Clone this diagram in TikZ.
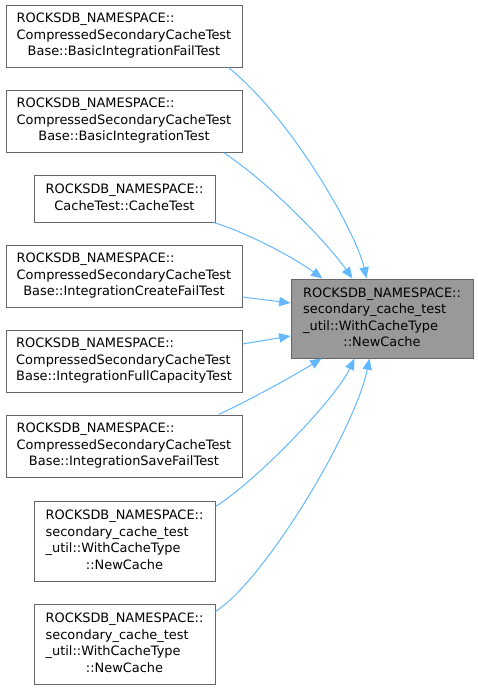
\documentclass[tikz,border=0pt]{standalone}
\usepackage{fontspec}
\setmainfont{DejaVu Sans}
\usetikzlibrary{arrows.meta,calc}
\definecolor{edgeblue}{HTML}{63B8FF}
\definecolor{boxborder}{HTML}{666666}
\definecolor{hifill}{HTML}{999999}
\newcommand{\dxlines}[2]{\begin{tabular}{@{}l@{}}#1\\\multicolumn{1}{@{}c@{}}{#2}\end{tabular}}
\begin{document}
\begin{tikzpicture}[x=0.75pt,y=-0.75pt,
  dbox/.style={draw=boxborder,line width=0.75pt,fill=white,inner sep=0pt,
    font=\fontsize{9.7}{12.4}\selectfont},
  wide/.style={dbox,minimum width=177pt,minimum height=46.5pt},
  narrow2/.style={dbox,minimum width=135.75pt,minimum height=35.25pt},
  narrow4/.style={dbox,minimum width=135.75pt,minimum height=60pt},
  hinode/.style={dbox,fill=hifill,minimum width=136.5pt,minimum height=59.25pt},
  calls/.style={draw=edgeblue,line width=0.75pt,-{Triangle[length=8.5pt,width=7pt]}}]
\useasboundingbox (0,0) rectangle (478,689);
\node[hinode] (nc) at (382,318.5) {\dxlines{ROCKSDB\_NAMESPACE::\\secondary\_cache\_test\\\_util::WithCacheType}{::NewCache}};
\node[wide] (b1) at (124,36) {\dxlines{ROCKSDB\_NAMESPACE::\\CompressedSecondaryCacheTest}{Base::BasicIntegrationFailTest}};
\node[wide] (b2) at (124,121) {\dxlines{ROCKSDB\_NAMESPACE::\\CompressedSecondaryCacheTest}{Base::BasicIntegrationTest}};
\node[narrow2] (b3) at (124.5,198.5) {\dxlines{ROCKSDB\_NAMESPACE::}{CacheTest::CacheTest}};
\node[wide] (b4) at (124,276) {\dxlines{ROCKSDB\_NAMESPACE::\\CompressedSecondaryCacheTest}{Base::IntegrationCreateFailTest}};
\node[wide] (b5) at (124,361) {\dxlines{ROCKSDB\_NAMESPACE::\\CompressedSecondaryCacheTest}{Base::IntegrationFullCapacityTest}};
\node[wide] (b6) at (124,446) {\dxlines{ROCKSDB\_NAMESPACE::\\CompressedSecondaryCacheTest}{Base::IntegrationSaveFailTest}};
\node[narrow4] (b7) at (124.5,541) {\dxlines{ROCKSDB\_NAMESPACE::\\secondary\_cache\_test\\\_util::WithCacheType}{::NewCache}};
\node[narrow4] (b8) at (124.5,644) {\dxlines{ROCKSDB\_NAMESPACE::\\secondary\_cache\_test\\\_util::WithCacheType}{::NewCache}};
% connectors
\draw[calls] ($(b1.south east)+(-14,0)$) .. controls (295,122) and (357,235) .. ($(nc.north west)+(76,0)$);
\draw[calls] ($(b2.south east)+(-19,0)$) .. controls (268,182) and (325,240) .. ($(nc.north west)+(62,0)$);
\draw[calls] ($(b3.south east)+(-2,0)$) .. controls (245,232) and (290,255) .. ($(nc.north west)+(32,0)$);
\draw[calls] ($(b4.east)+(0,21)$) -- ($(nc.west)+(0,-15.5)$);
\draw[calls] ($(b5.east)+(0,-17)$) -- ($(nc.west)+(0,17.5)$);
\draw[calls] ($(b6.north east)+(-24,0)$) .. controls (250,400) and (295,375) .. ($(nc.south west)+(31,0)$);
\draw[calls] ($(b7.north east)+(0,6)$) .. controls (255,482) and (335,400) .. ($(nc.south west)+(64,0)$);
\draw[calls] ($(b8.north east)+(0,8)$) .. controls (265,580) and (355,430) .. ($(nc.south west)+(79,0)$);
\end{tikzpicture}
\end{document}
